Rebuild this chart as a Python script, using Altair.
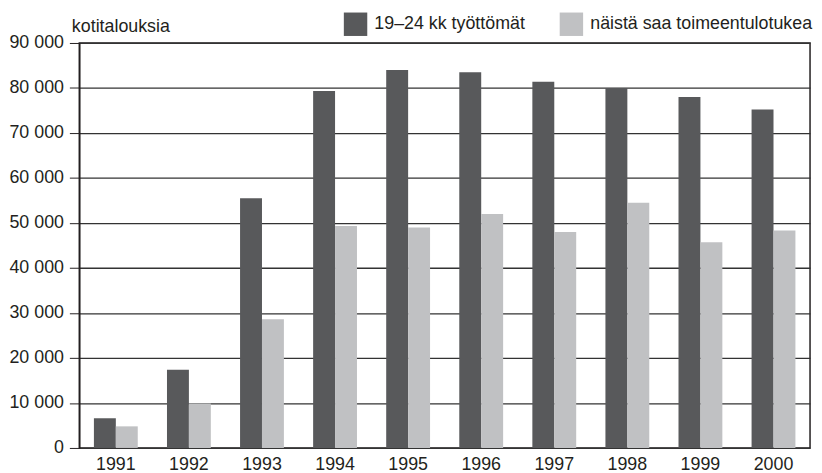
import altair as alt
import pandas as pd

years = ["1991", "1992", "1993", "1994", "1995", "1996", "1997", "1998", "1999", "2000"]
tyottomat = [6600, 17400, 55500, 79300, 84000, 83500, 81400, 80000, 78000, 75200]
toimeentulotuki = [4800, 9900, 28600, 49300, 49000, 52000, 48000, 54500, 45700, 48300]
series_names = ["19–24 kk työttömät", "näistä saa toimeentulotukea"]
series_colors = ["#58595b", "#c0c1c3"]
y_ticks = [0, 10000, 20000, 30000, 40000, 50000, 60000, 70000, 80000, 90000]

rows = []
for y, a, b in zip(years, tyottomat, toimeentulotuki):
    rows.append({"year": y, "series": series_names[0], "value": a})
    rows.append({"year": y, "series": series_names[1], "value": b})
df = pd.DataFrame(rows)

FONT = "Liberation Sans"

chart = alt.Chart(df).mark_bar().encode(
    x=alt.X("year:N", sort=years,
            scale=alt.Scale(paddingInner=0.4, paddingOuter=0.2),
            axis=alt.Axis(title=None, labelAngle=0, ticks=False, domain=False,
                          labelPadding=8, labelFontSize=18, labelColor="#231f20",
                          labelFont=FONT)),
    xOffset=alt.XOffset("series:N", sort=series_names),
    y=alt.Y("value:Q",
            scale=alt.Scale(domain=[0, 90000], nice=False),
            axis=alt.Axis(values=y_ticks, title="kotitalouksia",
                          titleAngle=0, titleAlign="left", titleBaseline="bottom",
                          titleX=-8, titleY=-8, titleFontSize=18, titleFontWeight="normal",
                          titleFont=FONT, titleColor="#231f20",
                          labelExpr="replace(format(datum.value, ','), ',', ' ')",
                          labelFontSize=18, labelFont=FONT, labelColor="#231f20",
                          labelPadding=6, tickSize=10, tickColor="#231f20",
                          domainColor="#231f20", domainWidth=1.5,
                          grid=True, gridColor="#333333", gridWidth=1.3)),
    color=alt.Color("series:N", sort=series_names,
                    scale=alt.Scale(domain=series_names, range=series_colors),
                    legend=alt.Legend(title=None, orient="none", legendX=267, legendY=-31,
                                      direction="horizontal", columns=2,
                                      symbolType="square", symbolSize=560,
                                      symbolStrokeWidth=0, symbolOpacity=1,
                                      labelFontSize=18, labelFont=FONT, labelColor="#231f20",
                                      labelLimit=0, labelOffset=7, columnPadding=34)),
).properties(
    width=738, height=409,
    autosize=alt.AutoSizeParams(type="none"),
    padding={"left": 72, "top": 33, "right": 4, "bottom": 26},
).configure_view(
    stroke="#231f20", strokeWidth=1.5
)

chart.save("out.html", embed_options={"renderer": "svg", "actions": False})
